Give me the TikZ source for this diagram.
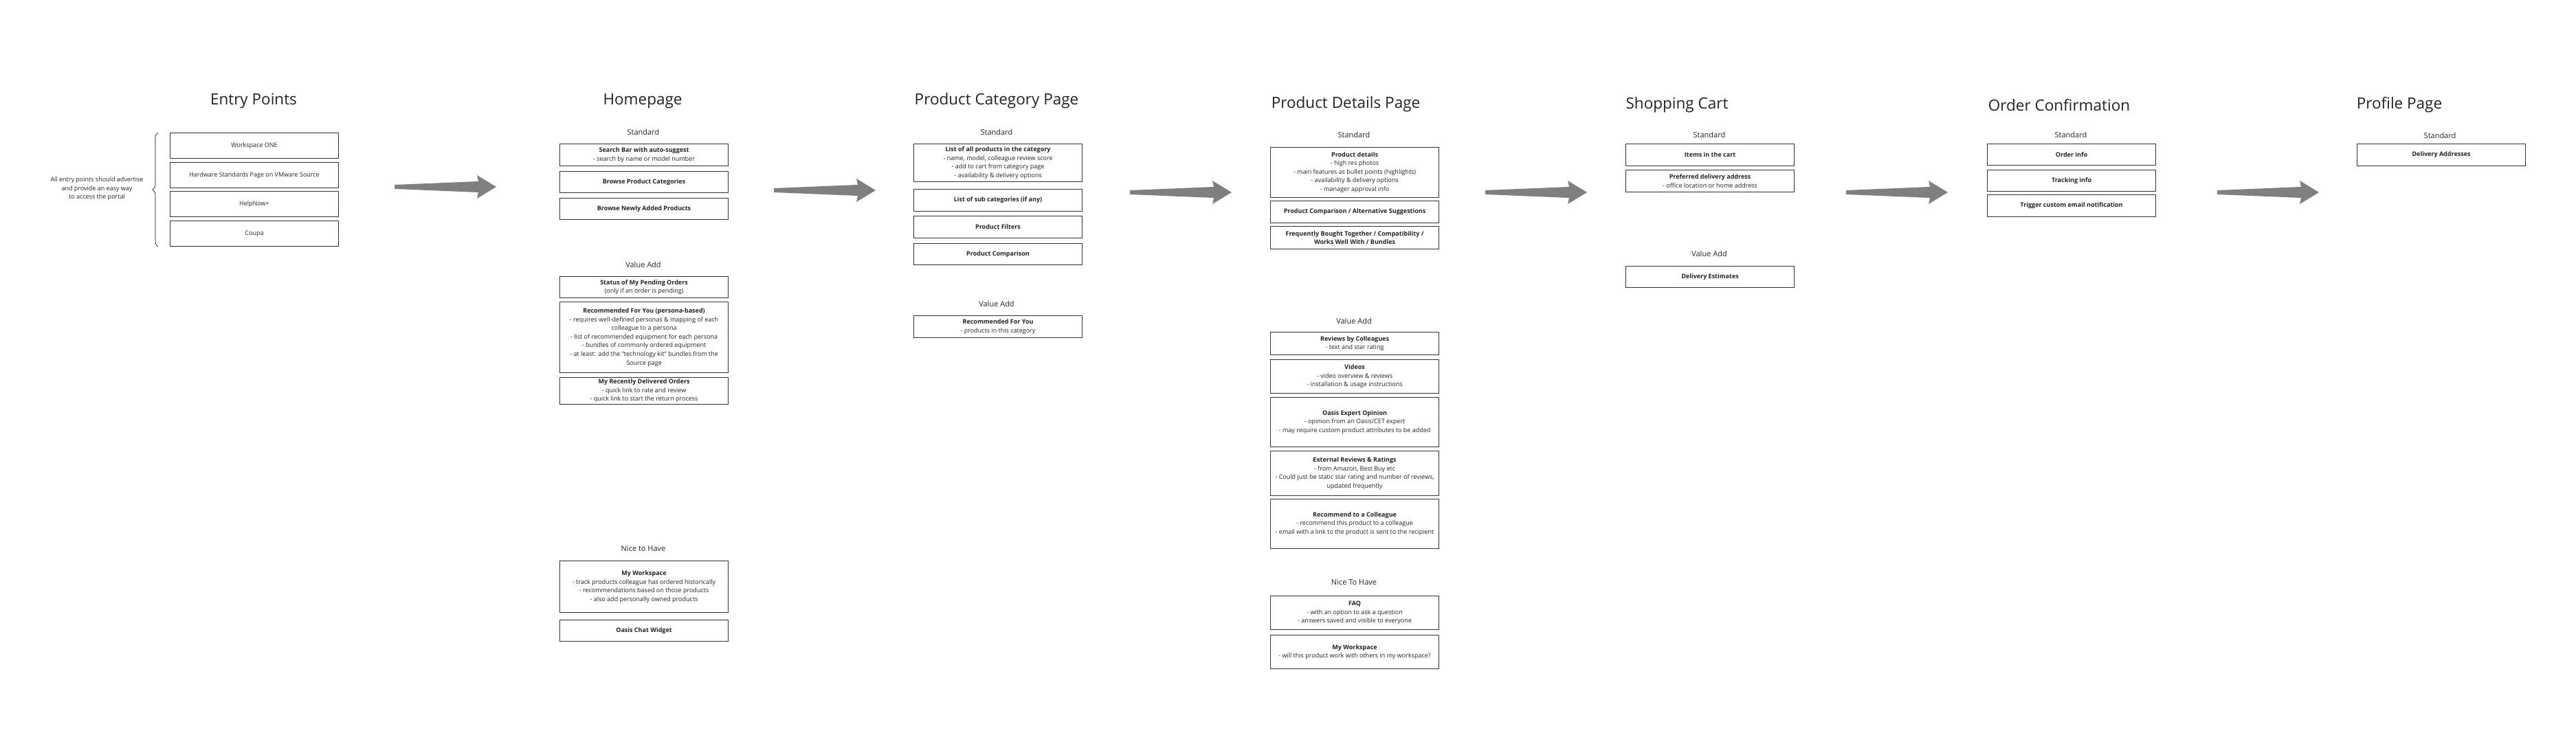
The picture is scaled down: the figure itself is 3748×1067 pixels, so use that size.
\documentclass[tikz,border=0pt]{standalone}
\usepackage{fontspec}
\setmainfont{Open Sans}
\usetikzlibrary{decorations.pathreplacing}
\definecolor{arrowgray}{HTML}{7F7F7F}
\definecolor{boxline}{HTML}{333333}
\definecolor{inkgray}{HTML}{222222}

\begin{document}
\begin{tikzpicture}[x=1pt, y=-1pt, text=inkgray,
    box/.style={draw=boxline, line width=1.1pt, anchor=north west, align=center,
        minimum width=245pt, inner sep=2pt, font=\fontsize{9}{12.6}\selectfont},
    pagetitle/.style={font=\fontsize{22.5}{26}\selectfont},
    tier/.style={font=\fontsize{11}{13}\selectfont}]
    \useasboundingbox (0,0) rectangle (3748,1067);

    % Entry Points
    \node[pagetitle] (entrytitle) at (369,147) {Entry Points};
    \node[box, minimum height=37pt] (e1) at (247,193) {Workspace ONE};
    \node[box, minimum height=37pt] (e2) at (247,236) {Hardware Standards Page on VMware Source};
    \node[box, minimum height=37pt] (e3) at (247,278) {HelpNow+};
    \node[box, minimum height=37pt] (e4) at (247,321) {Coupa};
    \draw[decorate, decoration={brace, amplitude=8pt}, line width=0.6pt]
        ([xshift=-17pt]e4.south west) -- ([xshift=-17pt]e1.north west);
    \node[align=center, font=\fontsize{9}{12.6}\selectfont] (entrynote) at (141,275)
        {All entry points should advertise\\and provide an easy way\\to access the portal};

    % Homepage
    \node[pagetitle] (hometitle) at (935,147) {Homepage};
    \node[tier] (homestd) at (936,192) {Standard};
    \node[box, minimum height=32pt] (h1) at (814,209) {\textbf{Search Bar with auto-suggest}\\- search by name or model number};
    \node[box, minimum height=31pt] (h2) at (814,249) {\textbf{Browse Product Categories}};
    \node[box, minimum height=31pt] (h3) at (814,288) {\textbf{Browse Newly Added Products}};
    \node[tier] (homeva) at (936,385) {Value Add};
    \node[box, minimum height=31pt] (h4) at (814,402) {\textbf{Status of My Pending Orders}\\(only if an order is pending)};
    \node[box, minimum height=103pt] (h5) at (814,439) {\textbf{Recommended For You (persona-based)}\\- requires well-defined personas \& mapping of each\\colleague to a persona\\- list of recommended equipment for each persona\\- bundles of commonly ordered equipment\\- at least: add the "technology kit" bundles from the\\Source page};
    \node[box, minimum height=39pt] (h6) at (814,549) {\textbf{My Recently Delivered Orders}\\- quick link to rate and review\\- quick link to start the return process};
    \node[tier] (homenice) at (936,799) {Nice to Have};
    \node[box, minimum height=75pt] (h7) at (814,816) {\textbf{My Workspace}\\- track products colleague has ordered historically\\- recommendations based on those products\\- also add personally owned products};
    \node[box, minimum height=31pt] (h8) at (814,902) {\textbf{Oasis Chat Widget}};

    % Product Category Page
    \node[pagetitle] (cattitle) at (1450,147) {Product Category Page};
    \node[tier] (catstd) at (1450,192) {Standard};
    \node[box, minimum height=55pt] (c1) at (1329,209) {\textbf{List of all products in the category}\\- name, model, colleague review score\\- add to cart from category page\\- availability \& delivery options};
    \node[box, minimum height=32pt] (c2) at (1329,275) {\textbf{List of sub categories (if any)}};
    \node[box, minimum height=32pt] (c3) at (1329,314) {\textbf{Product Filters}};
    \node[box, minimum height=31pt] (c4) at (1329,354) {\textbf{Product Comparison}};
    \node[tier] (catva) at (1450,442) {Value Add};
    \node[box, minimum height=32pt] (c5) at (1329,459) {\textbf{Recommended For You}\\- products in this category};

    % Product Details Page
    \node[pagetitle] (dettitle) at (1958,152) {Product Details Page};
    \node[tier] (detstd) at (1970,196) {Standard};
    \node[box, minimum height=73pt] (d1) at (1848,214) {\textbf{Product details}\\- high res photos\\- main features as bullet points (highlights)\\- availability \& delivery options\\- manager approval info};
    \node[box, minimum height=32pt] (d2) at (1848,292) {\textbf{Product Comparison / Alternative Suggestions}};
    \node[box, minimum height=33pt] (d3) at (1848,329) {\textbf{Frequently Bought Together / Compatibility /}\\\textbf{Works Well With / Bundles}};
    \node[tier] (detva) at (1970,467) {Value Add};
    \node[box, minimum height=33pt] (d4) at (1848,483) {\textbf{Reviews by Colleagues}\\- text and star rating};
    \node[box, minimum height=49pt] (d5) at (1848,523) {\textbf{Videos}\\- video overview \& reviews\\- installation \& usage instructions};
    \node[box, minimum height=72pt] (d6) at (1848,578) {\textbf{Oasis Expert Opinion}\\- opinion from an Oasis/CET expert\\- may require custom product attributes to be added};
    \node[box, minimum height=65pt] (d7) at (1848,656) {\textbf{External Reviews \& Ratings}\\- from Amazon, Best Buy etc\\- Could just be static star rating and number of reviews,\\updated frequently};
    \node[box, minimum height=72pt] (d8) at (1848,726) {\textbf{Recommend to a Colleague}\\- recommend this product to a colleague\\- email with a link to the product is sent to the recipient};
    \node[tier] (detnice) at (1970,848) {Nice To Have};
    \node[box, minimum height=49pt] (d9) at (1848,867) {\textbf{FAQ}\\- with an option to ask a question\\- answers saved and visible to everyone};
    \node[box, minimum height=49pt] (d10) at (1848,924) {\textbf{My Workspace}\\- will this product work with others in my workspace?};

    % Shopping Cart
    \node[pagetitle] (carttitle) at (2440,153) {Shopping Cart};
    \node[tier] (cartstd) at (2487,196) {Standard};
    \node[box, minimum height=32pt] (s1) at (2365,209) {\textbf{Items in the cart}};
    \node[box, minimum height=32pt] (s2) at (2365,247) {\textbf{Preferred delivery address}\\- office location or home address};
    \node[tier] (cartva) at (2487,369) {Value Add};
    \node[box, minimum height=31pt] (s3) at (2365,387) {\textbf{Delivery Estimates}};

    % Order Confirmation
    \node[pagetitle] (ordtitle) at (2996,153) {Order Confirmation};
    \node[tier] (ordstd) at (3013,196) {Standard};
    \node[box, minimum height=31pt] (o1) at (2891,209) {\textbf{Order info}};
    \node[box, minimum height=31pt] (o2) at (2891,247) {\textbf{Tracking info}};
    \node[box, minimum height=32pt] (o3) at (2891,283) {\textbf{Trigger custom email notification}};

    % Profile Page
    \node[pagetitle] (proftitle) at (3491,153) {Profile Page};
    \node[tier] (profstd) at (3550,197) {Standard};
    \node[box, minimum height=32pt] (p1) at (3429,209) {\textbf{Delivery Addresses}};

    % Pfeile zwischen den Seiten
    \foreach \ax/\ay in {574/272, 1126/277, 1644/280, 2161/280, 2686/280, 3226/280}
        \fill[arrowgray] (\ax,\ay-3) -- (\ax+122,\ay-8) -- (\ax+120,\ay-17)
            -- (\ax+148,\ay) -- (\ax+120,\ay+17) -- (\ax+122,\ay+8) -- (\ax,\ay+3) -- cycle;
\end{tikzpicture}
\end{document}
